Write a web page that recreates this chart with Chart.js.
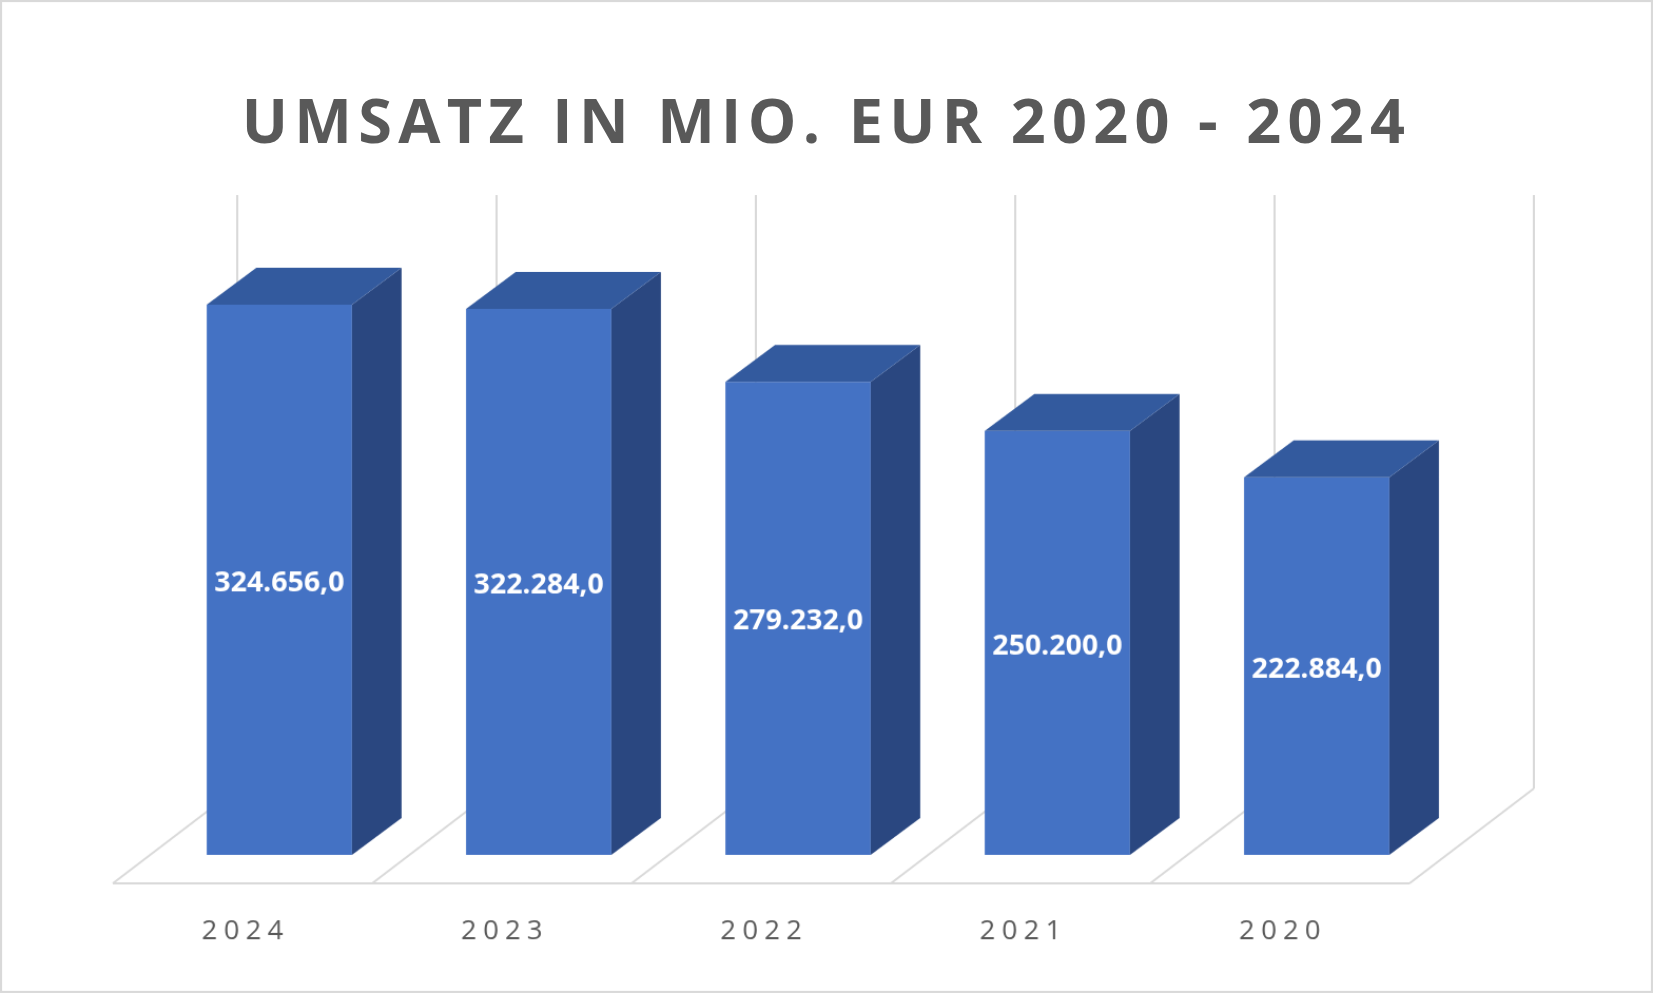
<!DOCTYPE html>
<html>
<head>
<meta charset="utf-8">
<script src="https://cdn.jsdelivr.net/npm/chart.js@4"></script>
<style>
  html, body { margin: 0; padding: 0; background: #fff; overflow: hidden; }
  #wrap { position: absolute; left: 0; top: 0; width: 1568px; height: 942px;
          transform: scale(1.0542, 1.0541); transform-origin: 0 0;
          box-sizing: border-box; border: 2px solid #D9D9D9; background: #fff; }
  #titel { position: absolute; left: 0; right: 0; top: 72px; text-align: center;
           font-family: "Open Sans", sans-serif; font-weight: bold; font-size: 58px;
           letter-spacing: 6px; color: #595959; }
  canvas { position: absolute; left: -2px; top: -2px; }
</style>
</head>
<body>
<div id="wrap">
  <div id="titel">UMSATZ IN MIO. EUR 2020 - 2024</div>
  <canvas id="chart-umsatz" width="1568" height="942"></canvas>
</div>
<script>
// Daten
const jahre = ['2024', '2023', '2022', '2021', '2020'];
const umsatz = [324656.0, 322284.0, 279232.0, 250200.0, 222884.0];

const farbeFront = '#4472C4';
const farbeSeite = '#2A4780';
const farbeOben = '#335A9E';
const farbeGitter = '#D9D9D9';

const fmt = v => v.toLocaleString('de-DE', { minimumFractionDigits: 1, maximumFractionDigits: 1 });

// 3D-Effekt: Boden, Rückwand, Seiten- und Deckflächen
const saeulen3d = {
    id: 'saeulen3d',
    beforeDatasetsDraw(chart) {
        const { ctx, chartArea, scales } = chart;
        const step = scales.x.getPixelForValue(1) - scales.x.getPixelForValue(0);
        const fx0 = chartArea.left - 35, fy = chartArea.bottom + 27;
        const dx = 118, dy = -90;
        const wandOben = chartArea.top + 17;
        ctx.save();
        ctx.strokeStyle = farbeGitter;
        ctx.lineWidth = 2;
        ctx.beginPath();
        for (let i = 0; i <= jahre.length; i++) {
            const x = fx0 + i * step;
            ctx.moveTo(x, fy);
            ctx.lineTo(x + dx, fy + dy);
            ctx.moveTo(x + dx, fy + dy);
            ctx.lineTo(x + dx, wandOben);
        }
        ctx.moveTo(fx0, fy);
        ctx.lineTo(fx0 + jahre.length * step, fy);
        ctx.stroke();
        // Jahreszahlen
        ctx.fillStyle = '#595959';
        ctx.font = '26px "Open Sans", sans-serif';
        ctx.letterSpacing = '6px';
        ctx.textAlign = 'center';
        ctx.textBaseline = 'middle';
        jahre.forEach((j, i) => {
            ctx.fillText(j, fx0 + (i + 0.5) * step + 3, fy + 46);
        });
        ctx.restore();
    },
    afterDatasetsDraw(chart) {
        const { ctx } = chart;
        const dx = 47, dy = -35;
        ctx.save();
        chart.getDatasetMeta(0).data.forEach((bar, i) => {
            const l = bar.x - bar.width / 2, r = bar.x + bar.width / 2;
            const t = bar.y, b = bar.base;
            ctx.fillStyle = farbeSeite;
            ctx.beginPath();
            ctx.moveTo(r, t); ctx.lineTo(r + dx, t + dy); ctx.lineTo(r + dx, b + dy); ctx.lineTo(r, b);
            ctx.closePath(); ctx.fill();
            ctx.fillStyle = farbeOben;
            ctx.beginPath();
            ctx.moveTo(l, t); ctx.lineTo(l + dx, t + dy); ctx.lineTo(r + dx, t + dy); ctx.lineTo(r, t);
            ctx.closePath(); ctx.fill();
            ctx.fillStyle = '#FFFFFF';
            ctx.font = 'bold 27px "Open Sans", sans-serif';
            ctx.textAlign = 'center';
            ctx.textBaseline = 'middle';
            ctx.fillText(fmt(umsatz[i]), bar.x, (t + b) / 2 + 3);
        });
        ctx.restore();
    }
};

new Chart(document.getElementById('chart-umsatz'), {
    type: 'bar',
    data: {
        labels: jahre,
        datasets: [{
            data: umsatz,
            backgroundColor: farbeFront,
            borderWidth: 0,
            barPercentage: 0.56,
            categoryPercentage: 1.0
        }]
    },
    options: {
        responsive: false,
        animation: false,
        layout: { padding: { left: 142, right: 196, top: 168, bottom: 131 } },
        plugins: { legend: { display: false }, tooltip: { enabled: false } },
        scales: {
            x: { display: false },
            y: { display: false, min: 0, max: 400000 }
        }
    },
    plugins: [saeulen3d]
});
</script>
</body>
</html>
